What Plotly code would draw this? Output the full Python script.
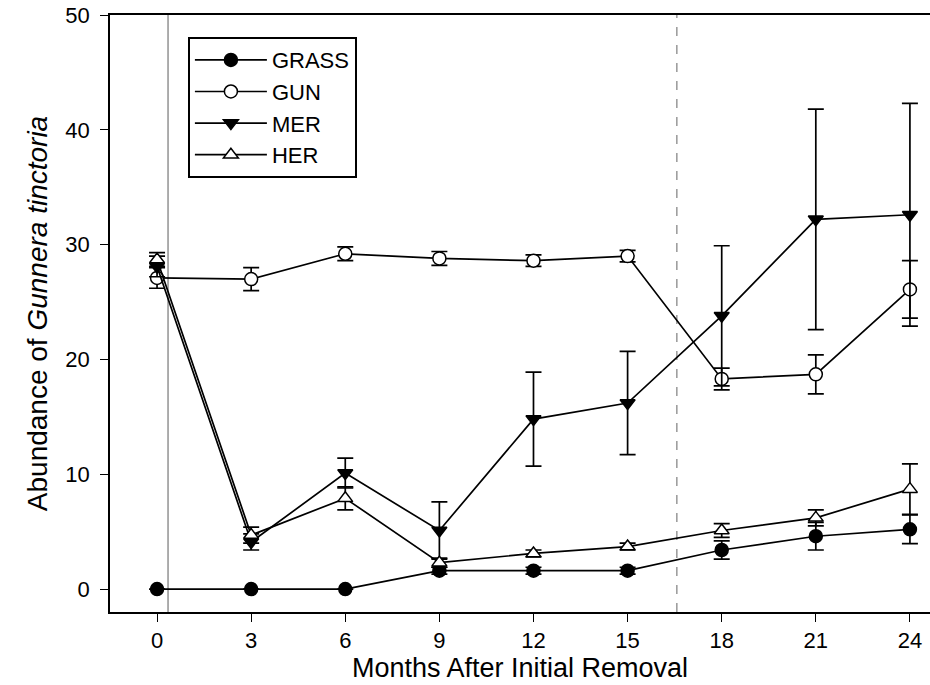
import plotly.graph_objects as go

months = [0, 3, 6, 9, 12, 15, 18, 21, 24]

grass = [0, 0, 0, 1.6, 1.6, 1.6, 3.4, 4.6, 5.2]
grass_err = [0, 0, 0, 0.3, 0.3, 0.3, 0.8, 1.2, 1.25]

gun = [27.1, 27.0, 29.2, 28.8, 28.6, 29.0, 18.3, 18.7, 26.1]
gun_err = [0.9, 1.0, 0.6, 0.6, 0.5, 0.5, 0.95, 1.7, 2.5]

mer = [28.1, 4.1, 10.1, 5.1, 14.8, 16.2, 23.8, 32.2, 32.6]
mer_err = [0.9, 0.7, 1.3, 2.5, 4.1, 4.5, 6.1, 9.6, 9.7]

her = [28.7, 4.7, 7.9, 2.3, 3.1, 3.7, 5.1, 6.2, 8.7]
her_err = [0.6, 0.7, 1.0, 0.4, 0.3, 0.3, 0.6, 0.7, 2.2]

names = ["GRASS", "GUN", "MER", "HER"]
series = [grass, gun, mer, her]
errors = [grass_err, gun_err, mer_err, her_err]
symbols = ["circle", "circle", "triangle-down", "triangle-up"]
fills = ["black", "white", "black", "white"]

removal_line_x = 0.35
dashed_line_x = 16.57

fig = go.Figure()

for name, ys, es, sym, fc in zip(names, series, errors, symbols, fills):
    fig.add_trace(go.Scatter(
        x=months, y=ys, name=name, mode="lines+markers",
        line=dict(color="black", width=1.7),
        marker=dict(symbol=sym, size=13, color=fc,
                    line=dict(color="black", width=1.5)),
        error_y=dict(type="data", array=es, visible=True, color="black",
                     thickness=1.7, width=8),
    ))

fig.add_shape(type="line", xref="x", yref="paper", x0=removal_line_x, x1=removal_line_x,
              y0=0, y1=1, line=dict(color="#777777", width=1.2), layer="below")
fig.add_shape(type="line", xref="x", yref="paper", x0=dashed_line_x, x1=dashed_line_x,
              y0=0, y1=1, line=dict(color="#888888", width=1.3, dash="dash"), layer="below")

font_family = "Liberation Sans, Arial, sans-serif"

fig.update_layout(
    width=930, height=685,
    margin=dict(l=110, r=0, t=15, b=73),
    plot_bgcolor="white", paper_bgcolor="white",
    font=dict(family=font_family, color="black", size=22),
    showlegend=True,
    legend=dict(x=0.095, y=0.963, xanchor="left", yanchor="top",
                bordercolor="black", borderwidth=2, bgcolor="white",
                font=dict(size=22, family=font_family),
                itemwidth=72, tracegroupgap=0),
    xaxis=dict(range=[-1.5, 24.64], tickvals=months, ticks="outside", ticklen=8,
               tickwidth=1.4, tickcolor="black", showline=True, linecolor="black",
               linewidth=1.6, mirror=True, showgrid=False, zeroline=False,
               tickfont=dict(size=22),
               title=dict(text="Months After Initial Removal", font=dict(size=27), standoff=2)),
    yaxis=dict(range=[-2.0, 50], tickvals=[0, 10, 20, 30, 40, 50], ticks="outside",
               ticklen=8, tickwidth=1.4, tickcolor="black", showline=True,
               linecolor="black", linewidth=1.6, showgrid=False, zeroline=False,
               tickfont=dict(size=22), ticklabelstandoff=6,
               title=dict(text="Abundance of <i>Gunnera tinctoria</i>", font=dict(size=28), standoff=10)),
)

fig.write_html("out.html", config={"displayModeBar": False},
               post_script="document.body.style.margin='0';document.body.style.overflow='hidden';")
